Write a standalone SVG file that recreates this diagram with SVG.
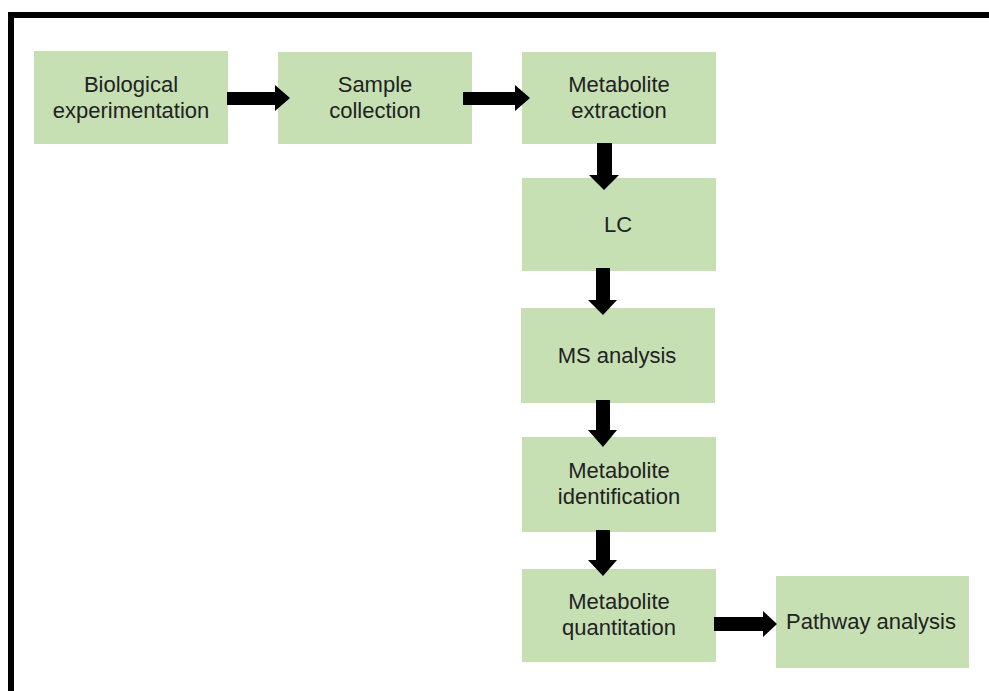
<svg xmlns="http://www.w3.org/2000/svg" width="989" height="691" viewBox="0 0 989 691">
  <style>
    .box { fill: #c6e0b4; }
    .lbl { font-family: "Liberation Sans", Arial, sans-serif; font-size: 22px; fill: #222222; text-anchor: middle; }
    .arrow { fill: #000000; }
  </style>
  <rect width="989" height="691" fill="#ffffff"/>
  <!-- frame: top and left rules -->
  <path d="M11 691 V15 H989" fill="none" stroke="#000000" stroke-width="6"/>

  <g id="node-biological">
    <rect class="box" x="34" y="51" width="194" height="93"/>
    <text class="lbl" x="131" y="92">Biological</text>
    <text class="lbl" x="131" y="118">experimentation</text>
  </g>
  <g id="node-sample">
    <rect class="box" x="278" y="52" width="194" height="92"/>
    <text class="lbl" x="375" y="92">Sample</text>
    <text class="lbl" x="375" y="118">collection</text>
  </g>
  <g id="node-extraction">
    <rect class="box" x="522" y="52" width="194" height="92"/>
    <text class="lbl" x="619" y="92">Metabolite</text>
    <text class="lbl" x="619" y="118">extraction</text>
  </g>
  <g id="node-lc">
    <rect class="box" x="522" y="178" width="194" height="93"/>
    <text class="lbl" x="618" y="232">LC</text>
  </g>
  <g id="node-ms">
    <rect class="box" x="521" y="308" width="194" height="95"/>
    <text class="lbl" x="617" y="363">MS analysis</text>
  </g>
  <g id="node-identification">
    <rect class="box" x="522" y="437" width="194" height="95"/>
    <text class="lbl" x="619" y="478">Metabolite</text>
    <text class="lbl" x="619" y="504">identification</text>
  </g>
  <g id="node-quantitation">
    <rect class="box" x="522" y="569" width="194" height="93"/>
    <text class="lbl" x="619" y="609">Metabolite</text>
    <text class="lbl" x="619" y="635">quantitation</text>
  </g>
  <g id="node-pathway">
    <rect class="box" x="776" y="576" width="193" height="92"/>
    <text class="lbl" x="871" y="629">Pathway analysis</text>
  </g>

  <g id="connectors">
    <polygon class="arrow" points="227,92 275,92 275,85 290,98 275,111 275,105 227,105"/>
    <polygon class="arrow" points="463,92 515,92 515,85 530,98 515,111 515,105 463,105"/>
    <polygon class="arrow" points="597,143 612,143 612,175 619,175 604,190 589,175 597,175"/>
    <polygon class="arrow" points="596,268 610,268 610,300 617,300 603,315 588,300 596,300"/>
    <polygon class="arrow" points="596,400 610,400 610,430 617,430 603,447 588,430 596,430"/>
    <polygon class="arrow" points="596,530 610,530 610,560 617,560 603,576 588,560 596,560"/>
    <polygon class="arrow" points="714,617 763,617 763,611 777,624 763,637 763,631 714,631"/>
  </g>
</svg>
